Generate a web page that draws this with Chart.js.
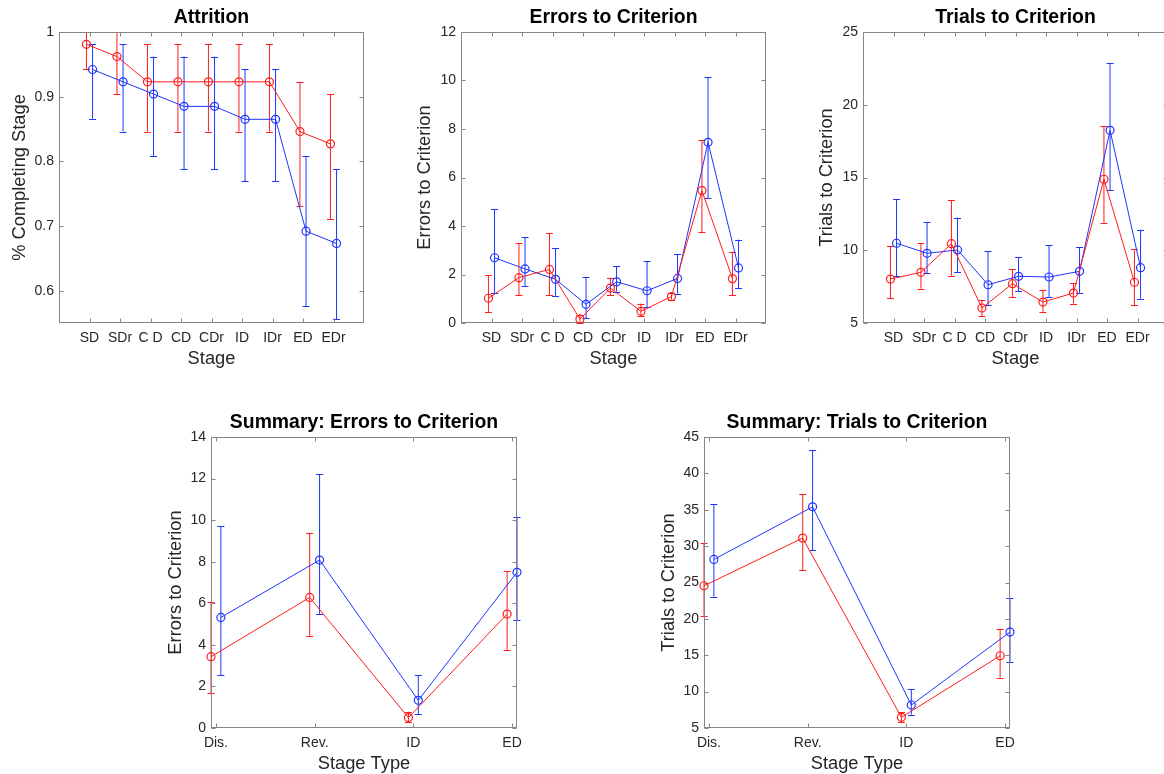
<!DOCTYPE html>
<html>
<head>
<meta charset="utf-8">
<title>Set-shifting stages</title>
<script src="https://cdn.jsdelivr.net/npm/chart.js@4.4.0/dist/chart.umd.min.js"></script>
<style>
    html, body { margin: 0; padding: 0; background: #fff; overflow: hidden; }
    #figure { position: relative; width: 1164px; height: 774px; overflow: hidden; background: #fff; }
    #figure canvas { position: absolute; }
</style>
</head>
<body>
<div id="figure">
    <canvas id="attrition"></canvas>
    <canvas id="errors"></canvas>
    <canvas id="trials"></canvas>
    <canvas id="sumErrors"></canvas>
    <canvas id="sumTrials"></canvas>
</div>
<script>
const stages = ['SD', 'SDr', 'C D', 'CD', 'CDr', 'ID', 'IDr', 'ED', 'EDr'];
const stageTypes = ['Dis.', 'Rev.', 'ID', 'ED'];

// proportion of animals completing each stage
const attrRed = [0.981, 0.962, 0.923, 0.923, 0.923, 0.923, 0.923, 0.846, 0.827];
const attrRedLo = [0.943, 0.904, 0.846, 0.846, 0.846, 0.846, 0.846, 0.731, 0.711];
const attrRedHi = [1.0, 1.0, 0.981, 0.981, 0.981, 0.981, 0.981, 0.923, 0.904];
const attrBlue = [0.942, 0.923, 0.904, 0.885, 0.885, 0.865, 0.865, 0.692, 0.673];
const attrBlueLo = [0.866, 0.846, 0.808, 0.788, 0.788, 0.769, 0.769, 0.576, 0.556];
const attrBlueHi = [0.981, 0.981, 0.962, 0.962, 0.962, 0.943, 0.943, 0.808, 0.788];

// errors to criterion per stage
const errRed = [1.02, 1.87, 2.21, 0.16, 1.44, 0.48, 1.09, 5.46, 1.83];
const errRedLo = [0.45, 1.14, 1.14, 0.0, 1.14, 0.29, 0.96, 3.74, 1.15];
const errRedHi = [1.98, 3.29, 3.70, 0.35, 1.87, 0.80, 1.25, 7.53, 2.94];
const errBlue = [2.69, 2.23, 1.80, 0.77, 1.70, 1.33, 1.84, 7.45, 2.27];
const errBlueLo = [1.22, 1.53, 1.11, 0.19, 1.29, 0.65, 1.21, 5.14, 1.43];
const errBlueHi = [4.70, 3.55, 3.08, 1.88, 2.35, 2.56, 2.85, 10.14, 3.44];

// trials to criterion per stage
const trialRed = [8.02, 8.48, 10.45, 6.03, 7.70, 6.44, 7.06, 14.88, 7.80];
const trialRedLo = [6.72, 7.36, 8.25, 5.46, 6.79, 5.76, 6.33, 11.89, 6.22];
const trialRedHi = [10.27, 10.50, 13.45, 6.60, 8.69, 7.29, 7.75, 18.52, 10.07];
const trialBlue = [10.48, 9.79, 10.02, 7.63, 8.21, 8.16, 8.55, 18.24, 8.80];
const trialBlueLo = [8.21, 8.42, 8.51, 6.24, 7.20, 6.77, 7.08, 14.14, 6.67];
const trialBlueHi = [13.52, 11.92, 12.24, 9.95, 9.54, 10.34, 10.20, 22.85, 11.41];

// summaries by stage type
const sumErrRed = [3.43, 6.28, 0.50, 5.48];
const sumErrRedLo = [1.67, 4.41, 0.30, 3.76];
const sumErrRedHi = [6.07, 9.39, 0.78, 7.53];
const sumErrBlue = [5.32, 8.08, 1.33, 7.49];
const sumErrBlueLo = [2.55, 5.48, 0.67, 5.18];
const sumErrBlueHi = [9.70, 12.21, 2.55, 10.14];

const sumTrialRed = [24.55, 31.10, 6.47, 14.93];
const sumTrialRedLo = [20.34, 26.66, 5.80, 11.91];
const sumTrialRedHi = [30.37, 37.10, 7.15, 18.56];
const sumTrialBlue = [28.17, 35.40, 8.16, 18.19];
const sumTrialBlueLo = [23.04, 29.41, 6.83, 14.11];
const sumTrialBlueHi = [35.73, 43.23, 10.32, 22.90];

const attrTicks = [0.6, 0.7, 0.8, 0.9, 1];
const errTicks = [0, 2, 4, 6, 8, 10, 12];
const trialTicks = [5, 10, 15, 20, 25];
const sumErrTicks = [0, 2, 4, 6, 8, 10, 12, 14];
const sumTrialTicks = [5, 10, 15, 20, 25, 30, 35, 40, 45];

const RED = 'rgb(255, 28, 28)';
const BLUE = 'rgb(28, 52, 255)';
const FONT = "'Liberation Sans', Arial, Helvetica, sans-serif";
const TEXT = '#262626';
const ML = 58, MT = 32, MR = 12, MB = 72;

const panels = [
    { id: 'attrition', left: 59, top: 32, w: 305, h: 291, yGap: 39,
      title: 'Attrition', xTitle: 'Stage', yTitle: '% Completing Stage',
      cats: stages, xMin: 0, xMax: 10, shift: 0.1, yMin: 0.55, yMax: 1, yTicks: attrTicks,
      red: [attrRed, attrRedLo, attrRedHi], blue: [attrBlue, attrBlueLo, attrBlueHi] },
    { id: 'errors', left: 461, top: 32, w: 305, h: 291, yGap: 36,
      title: 'Errors to Criterion', xTitle: 'Stage', yTitle: 'Errors to Criterion',
      cats: stages, xMin: 0, xMax: 10, shift: 0.1, yMin: 0, yMax: 12, yTicks: errTicks,
      red: [errRed, errRedLo, errRedHi], blue: [errBlue, errBlueLo, errBlueHi] },
    { id: 'trials', left: 863, top: 32, w: 305, h: 291, yGap: 36,
      title: 'Trials to Criterion', xTitle: 'Stage', yTitle: 'Trials to Criterion',
      cats: stages, xMin: 0, xMax: 10, shift: 0.1, yMin: 5, yMax: 25, yTicks: trialTicks,
      red: [trialRed, trialRedLo, trialRedHi], blue: [trialBlue, trialBlueLo, trialBlueHi] },
    { id: 'sumErrors', left: 211, top: 437, w: 306, h: 291, yGap: 35,
      title: 'Summary: Errors to Criterion', xTitle: 'Stage Type', yTitle: 'Errors to Criterion',
      cats: stageTypes, xMin: 0.95, xMax: 4.05, shift: 0.05, yMin: 0, yMax: 14, yTicks: sumErrTicks,
      red: [sumErrRed, sumErrRedLo, sumErrRedHi], blue: [sumErrBlue, sumErrBlueLo, sumErrBlueHi] },
    { id: 'sumTrials', left: 704, top: 437, w: 306, h: 291, yGap: 35,
      title: 'Summary: Trials to Criterion', xTitle: 'Stage Type', yTitle: 'Trials to Criterion',
      cats: stageTypes, xMin: 0.95, xMax: 4.05, shift: 0.05, yMin: 5, yMax: 45, yTicks: sumTrialTicks,
      red: [sumTrialRed, sumTrialRedLo, sumTrialRedHi], blue: [sumTrialBlue, sumTrialBlueLo, sumTrialBlueHi] }
];

// vertical error bars with caps, drawn under the markers
const errorBars = {
    id: 'errorBars',
    beforeDatasetsDraw(chart) {
        const { ctx, scales: { x, y } } = chart;
        chart.data.datasets.forEach(ds => {
            ctx.save();
            ctx.strokeStyle = ds.borderColor;
            ctx.lineWidth = 1;
            ds.data.forEach((pt, i) => {
                const px = x.getPixelForValue(pt.x);
                const lo = y.getPixelForValue(ds.lo[i]);
                const hi = y.getPixelForValue(ds.hi[i]);
                ctx.beginPath();
                ctx.moveTo(px, lo);
                ctx.lineTo(px, hi);
                ctx.moveTo(px - 3.5, Math.round(lo) + 0.5);
                ctx.lineTo(px + 3.5, Math.round(lo) + 0.5);
                ctx.moveTo(px - 3.5, Math.round(hi) + 0.5);
                ctx.lineTo(px + 3.5, Math.round(hi) + 0.5);
                ctx.stroke();
            });
            ctx.restore();
        });
    }
};

// boxed axes with inward ticks on all four sides, plus titles
const axesFrame = {
    id: 'axesFrame',
    beforeDatasetsDraw(chart, args, opts) {
        const { ctx, chartArea: a, scales: { x, y } } = chart;
        const L = Math.round(a.left) + 0.5, R = Math.round(a.right) - 0.5;
        const T = Math.round(a.top) + 0.5, B = Math.round(a.bottom) - 0.5;
        ctx.save();
        ctx.strokeStyle = '#858585';
        ctx.lineWidth = 1;
        ctx.strokeRect(L, T, R - L, B - T);
        ctx.beginPath();
        x.ticks.forEach(t => {
            const px = Math.round(x.getPixelForValue(t.value)) + 0.5;
            ctx.moveTo(px, B); ctx.lineTo(px, B - 4);
            ctx.moveTo(px, T); ctx.lineTo(px, T + 4);
        });
        y.ticks.forEach(t => {
            const py = Math.round(y.getPixelForValue(t.value)) + 0.5;
            ctx.moveTo(L, py); ctx.lineTo(L + 4, py);
            ctx.moveTo(R, py); ctx.lineTo(R - 4, py);
        });
        ctx.stroke();
        ctx.restore();
    },
    afterDraw(chart, args, opts) {
        const { ctx, chartArea: a } = chart;
        const cx = (a.left + a.right) / 2;
        ctx.save();
        ctx.textAlign = 'center';
        ctx.textBaseline = 'middle';
        ctx.fillStyle = '#000';
        ctx.font = 'bold 19.4px ' + FONT;
        ctx.fillText(opts.title, cx, a.top - 14);
        ctx.fillStyle = TEXT;
        ctx.font = '18.3px ' + FONT;
        ctx.fillText(opts.xTitle, cx, a.bottom + 36);
        ctx.translate(a.left - opts.yGap, (a.top + a.bottom) / 2);
        ctx.rotate(-Math.PI / 2);
        ctx.fillText(opts.yTitle, 0, 0);
        ctx.restore();
    }
};

const series = (vals, lo, hi, dx, color) => ({
    data: vals.map((v, i) => ({ x: i + 1 + dx, y: v })),
    lo: lo,
    hi: hi,
    borderColor: color,
    borderWidth: 1,
    pointRadius: 4,
    pointBorderWidth: 1.2,
    pointBorderColor: color,
    pointBackgroundColor: 'rgba(0,0,0,0)',
    tension: 0,
    clip: false
});

const makeChart = (p) => {
    const canvas = document.getElementById(p.id);
    const W = ML + p.w + MR, H = MT + p.h + MB;
    canvas.width = W;
    canvas.height = H;
    canvas.style.width = W + 'px';
    canvas.style.height = H + 'px';
    canvas.style.left = (p.left - ML) + 'px';
    canvas.style.top = (p.top - MT) + 'px';

    new Chart(canvas, {
        type: 'line',
        data: {
            datasets: [
                series(p.red[0], p.red[1], p.red[2], -p.shift, RED),
                series(p.blue[0], p.blue[1], p.blue[2], p.shift, BLUE)
            ]
        },
        options: {
            responsive: false,
            animation: false,
            devicePixelRatio: 1,
            layout: { padding: { top: MT, right: MR, left: 0, bottom: 0 } },
            plugins: {
                legend: { display: false },
                tooltip: { enabled: false },
                axesFrame: { title: p.title, xTitle: p.xTitle, yTitle: p.yTitle, yGap: p.yGap }
            },
            scales: {
                x: {
                    type: 'linear',
                    min: p.xMin,
                    max: p.xMax,
                    grid: { display: false, drawTicks: false },
                    border: { display: false },
                    afterBuildTicks: (s) => { s.ticks = p.cats.map((c, i) => ({ value: i + 1 })); },
                    afterFit: (s) => { s.height = MB; },
                    ticks: {
                        autoSkip: false,
                        maxRotation: 0,
                        padding: 7,
                        color: TEXT,
                        font: { family: FONT, size: 14 },
                        callback: (v) => p.cats[Math.round(v) - 1]
                    }
                },
                y: {
                    type: 'linear',
                    min: p.yMin,
                    max: p.yMax,
                    grid: { display: false, drawTicks: false },
                    border: { display: false },
                    afterBuildTicks: (s) => { s.ticks = p.yTicks.map(v => ({ value: v })); },
                    afterFit: (s) => { s.width = ML; },
                    ticks: {
                        padding: 5,
                        color: TEXT,
                        font: { family: FONT, size: 14 },
                        callback: (v) => String(+v.toFixed(2))
                    }
                }
            }
        },
        plugins: [errorBars, axesFrame]
    });
};

panels.forEach(makeChart);
</script>
</body>
</html>
